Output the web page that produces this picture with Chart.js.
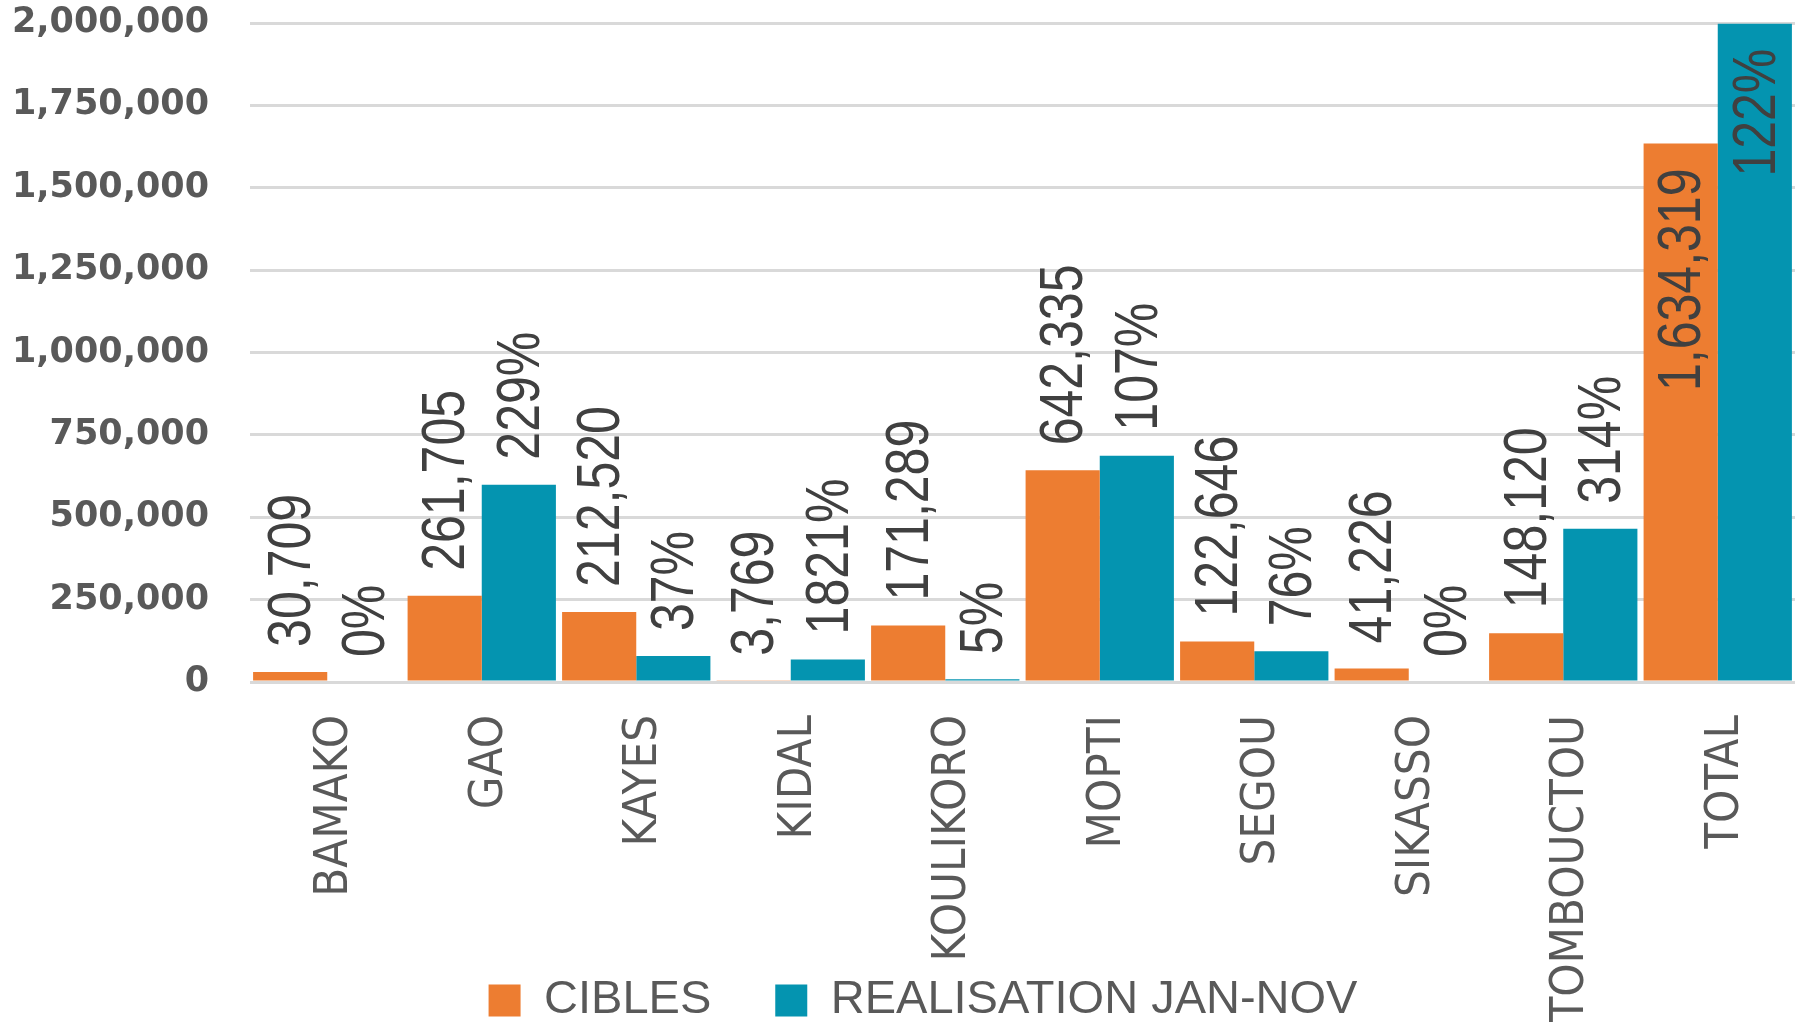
<!DOCTYPE html>
<html>
<head>
<meta charset="utf-8">
<script src="https://cdn.jsdelivr.net/npm/chart.js@4/dist/chart.umd.min.js"></script>
<style>
  html, body { margin: 0; padding: 0; background: #fff; }
  canvas { display: block; }
</style>
</head>
<body>
<canvas id="chart" width="1798" height="1022"></canvas>
<script>
const regions = ["BAMAKO", "GAO", "KAYES", "KIDAL", "KOULIKORO", "MOPTI", "SEGOU", "SIKASSO", "TOMBOUCTOU", "TOTAL"];
const cibles = [30709, 261705, 212520, 3769, 171289, 642335, 122646, 41226, 148120, 1634319];
const realisation = [0, 599000, 78600, 68600, 8600, 687000, 93200, 0, 465000, 1998000];
const tauxLabels = ["0%", "229%", "37%", "1821%", "5%", "107%", "76%", "0%", "314%", "122%"];
const yTicks = [0, 250000, 500000, 750000, 1000000, 1250000, 1500000, 1750000, 2000000];

const fmt = (v) => v.toLocaleString("en-US");

// labels turned -90deg, above the bar, or inside it when there is no room
const barLabels = {
  id: "barLabels",
  afterLayout(chart) {
    // let the long category names run down past the legend top
    chart.scales.x.bottom = chart.height;
    chart.legend.left += 20;
    chart.legend.right += 20;
  },
  afterDatasetsDraw(chart) {
    const { ctx, chartArea } = chart;
    const squeeze = 0.82;
    ctx.save();
    ctx.font = '61px "Liberation Sans"';
    ctx.fillStyle = "#404040";
    ctx.textBaseline = "middle";
    chart.data.datasets.forEach((ds, di) => {
      chart.getDatasetMeta(di).data.forEach((bar, i) => {
        const text = ds.labelTexts[i];
        const w = ctx.measureText(text).width * squeeze;
        ctx.save();
        ctx.translate(bar.x + 3, bar.y);
        ctx.rotate(-Math.PI / 2);
        if (bar.y - 27 - w < chartArea.top) {
          ctx.translate(-25, 0);
          ctx.scale(squeeze, 1);
          ctx.textAlign = "right";
        } else {
          ctx.translate(25, 0);
          ctx.scale(squeeze, 1);
          ctx.textAlign = "left";
        }
        ctx.fillText(text, 0, 0);
        ctx.restore();
      });
    });
    ctx.restore();
  },
};

new Chart(document.getElementById("chart").getContext("2d"), {
  type: "bar",
  data: {
    labels: regions,
    datasets: [
      {
        label: "CIBLES",
        data: cibles,
        labelTexts: cibles.map(fmt),
        backgroundColor: "#ED7D31",
        categoryPercentage: 0.96,
        barPercentage: 1,
      },
      {
        label: "REALISATION JAN-NOV",
        data: realisation,
        labelTexts: tauxLabels,
        backgroundColor: "#0494B0",
        categoryPercentage: 0.96,
        barPercentage: 1,
      },
    ],
  },
  options: {
    responsive: false,
    animation: false,
    layout: { padding: { left: 11, right: 3, top: 23, bottom: -12 } },
    plugins: {
      tooltip: { enabled: false },
      legend: {
        position: "bottom",
        labels: {
          boxWidth: 32,
          boxHeight: 32,
          padding: 64,
          color: "#595959",
          font: { family: '"Liberation Sans"', size: 47 },
        },
      },
    },
    scales: {
      x: {
        grid: { display: false, drawTicks: false },
        border: { display: false },
        ticks: {
          autoSkip: false,
          minRotation: 90,
          maxRotation: 90,
          padding: 33,
          labelOffset: 8,
          color: "#595959",
          font: { family: '"DejaVu Sans Condensed", "DejaVu Sans"', size: 47 },
        },
        afterFit(scale) {
          scale.height = 231;
          scale.paddingLeft = 0;
          scale.paddingRight = 0;
        },
      },
      y: {
        min: 0,
        max: 2000000,
        afterBuildTicks(scale) { scale.ticks = yTicks.map((v) => ({ value: v })); },
        afterFit(scale) {
          scale.width = 239;
          scale.paddingTop = 0;
          scale.paddingBottom = 0;
        },
        grid: { color: "#D9D9D9", lineWidth: 3, drawTicks: false },
        border: { display: false },
        ticks: {
          padding: 41,
          color: "#595959",
          font: { family: '"DejaVu Sans"', size: 35, weight: "bold" },
          callback: (v) => fmt(v),
        },
      },
    },
  },
  plugins: [barLabels],
});
</script>
</body>
</html>
